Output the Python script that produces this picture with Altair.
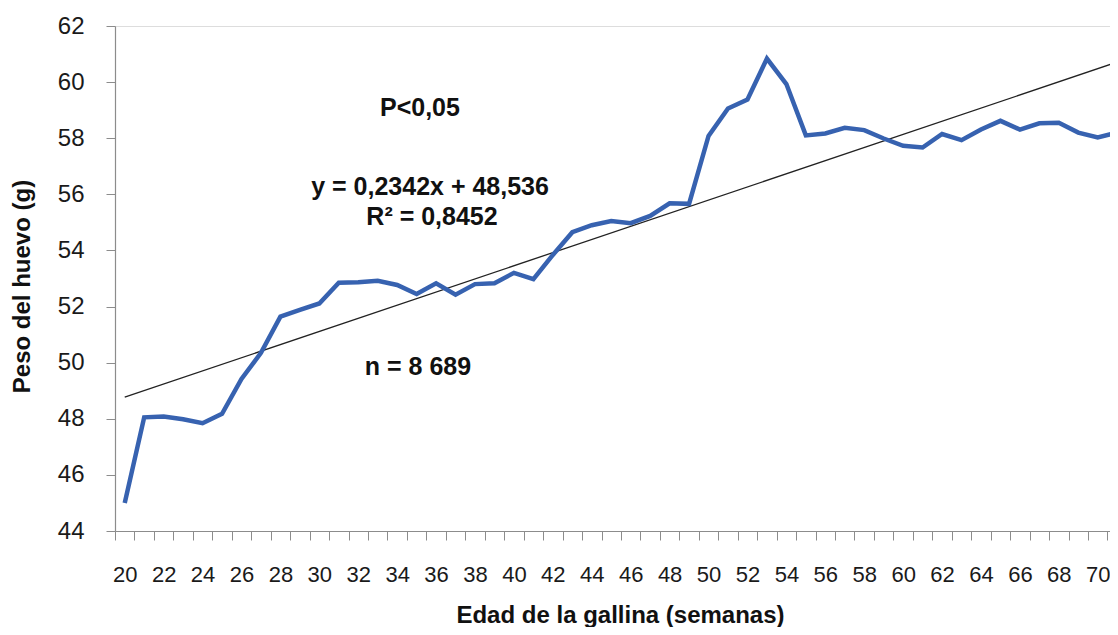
import altair as alt
import pandas as pd

weeks = list(range(20, 72))
weights = [45.0, 48.05, 48.08, 47.98, 47.84, 48.18, 49.42, 50.35, 51.64, 51.88,
           52.11, 52.85, 52.87, 52.92, 52.77, 52.45, 52.83, 52.42, 52.80, 52.83,
           53.20, 52.98, 53.84, 54.65, 54.90, 55.05, 54.97, 55.23, 55.68, 55.66,
           58.08, 59.06, 59.38, 60.84, 59.93, 58.10, 58.17, 58.37, 58.29, 57.99,
           57.73, 57.67, 58.15, 57.93, 58.31, 58.62, 58.31, 58.53, 58.55, 58.20,
           58.03, 58.20]

trend_weeks = [20, 71]
slope = 0.2342
intercept = 48.536

ann_text = ["P<0,05", "y = 0,2342x + 48,536", "R² = 0,8452", "n = 8 689"]
ann_x = [35.17, 35.69, 35.79, 35.07]
ann_y = [59.07, 56.26, 55.19, 49.84]

y_ticks = [44, 46, 48, 50, 52, 54, 56, 58, 60, 62]
x_tick_edges = [w - 0.5 for w in range(20, 72)]

df = pd.DataFrame({"week": weeks, "peso": weights})
trend_df = pd.DataFrame({"week": trend_weeks})
ann_df = pd.DataFrame({"label": ann_text, "week": ann_x, "peso": ann_y})

FONT = "Liberation Sans"
x_scale = alt.Scale(domain=[19.5, 70.63], nice=False, zero=False)
y_scale = alt.Scale(domain=[44, 62], nice=False, zero=False)

x_axis = alt.Axis(
    values=x_tick_edges,
    tickCount=200,
    labelExpr="(datum.value + 0.5) % 2 == 0 ? format(datum.value + 0.5, 'd') : ''",
    labelOffset=9.73,
    labelOverlap=False,
    labelFlush=False,
    labelBound=False,
    labelFontSize=22,
    labelFont=FONT,
    labelColor="#1a1a1a",
    labelPadding=24,
    tickSize=9,
    tickColor="#8c8c8c",
    domainColor="#8c8c8c",
    domainWidth=1.2,
    grid=False,
    title="Edad de la gallina (semanas)",
    titleFont=FONT,
    titleFontSize=24,
    titleFontWeight="bold",
    titleColor="#111111",
    titleX=505,
    titleY=84,
    titleBaseline="middle",
)

y_axis = alt.Axis(
    values=y_ticks,
    tickCount=20,
    labelFontSize=24,
    labelFont=FONT,
    labelColor="#1a1a1a",
    labelPadding=22,
    tickSize=9,
    tickColor="#8c8c8c",
    domainColor="#8c8c8c",
    domainWidth=1.2,
    grid=False,
    title="Peso del huevo (g)",
    titleFont=FONT,
    titleFontSize=24,
    titleFontWeight="bold",
    titleColor="#111111",
    titleX=-93,
    titleY=260,
    titleAngle=-90,
    titleBaseline="middle",
)

line = alt.Chart(df).mark_line(color="#3762b0", strokeWidth=4.5, clip=True).encode(
    x=alt.X("week:Q", scale=x_scale, axis=x_axis),
    y=alt.Y("peso:Q", scale=y_scale, axis=y_axis),
)

trend = alt.Chart(trend_df).transform_calculate(
    peso=f"{slope} * (datum.week - 19) + {intercept}"
).mark_line(color="#222222", strokeWidth=1.3, clip=True).encode(
    x=alt.X("week:Q", scale=x_scale),
    y=alt.Y("peso:Q", scale=y_scale),
)

labels = alt.Chart(ann_df).mark_text(
    font=FONT, fontSize=25, fontWeight="bold", color="#111111", align="center", baseline="middle"
).encode(
    x=alt.X("week:Q", scale=x_scale),
    y=alt.Y("peso:Q", scale=y_scale),
    text="label:N",
)

chart = alt.layer(trend, line, labels).properties(
    width=995,
    height=505,
    autosize=alt.AutoSizeParams(type="none"),
    padding={"left": 107, "top": 18, "right": 0, "bottom": 96},
).configure_view(stroke=None).configure(background="white")

chart.save("out.html", embed_options={"renderer": "svg", "actions": False})
